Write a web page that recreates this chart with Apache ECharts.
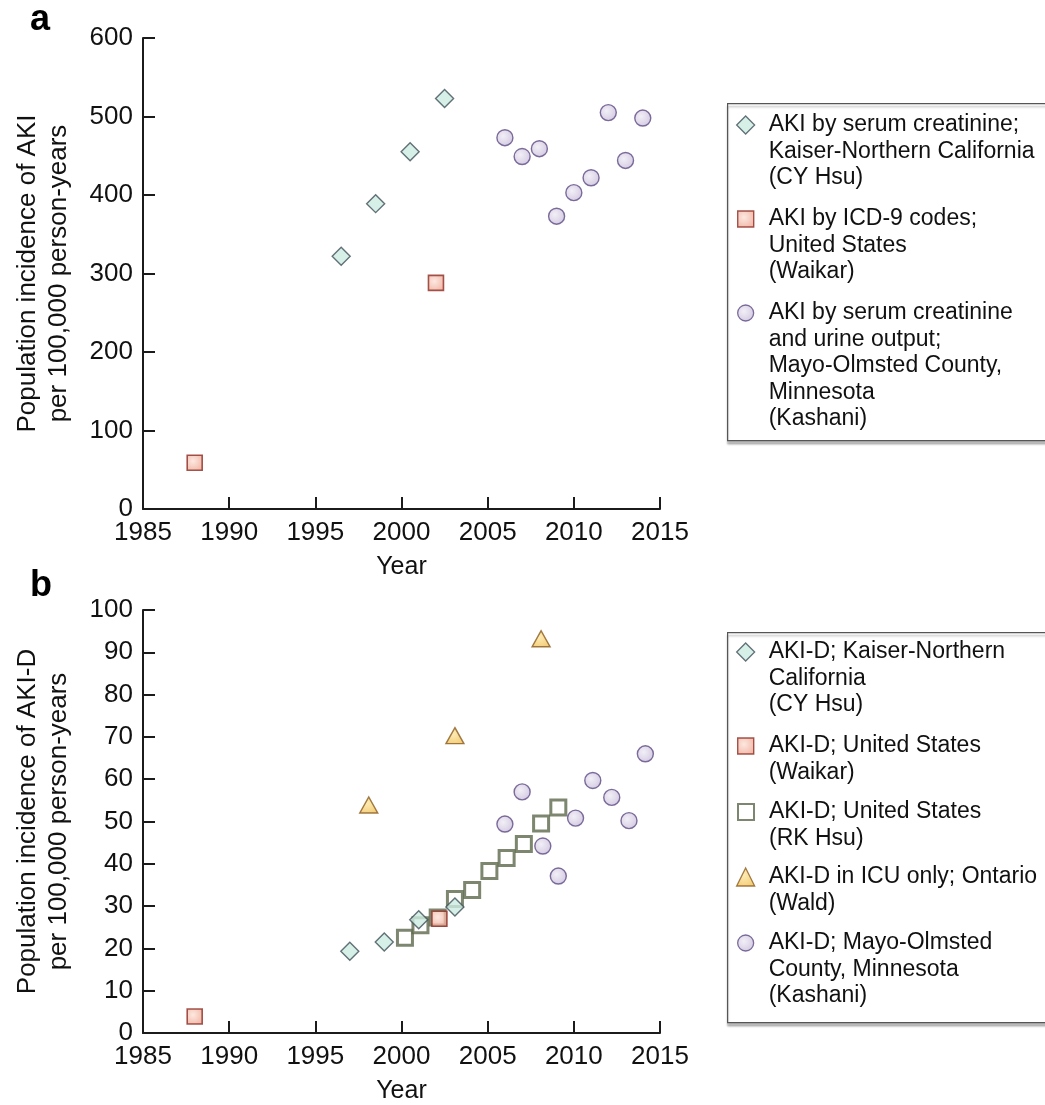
<!DOCTYPE html>
<html>
<head>
<meta charset="utf-8">
<script src="https://cdn.jsdelivr.net/npm/echarts@6/dist/echarts.min.js"></script>
<style>
  html, body { margin: 0; padding: 0; background: #fff; }
  #chart { width: 1045px; height: 1105px; }
</style>
</head>
<body>
<div id="chart"></div>
<script>
// panel a: AKI incidence per 100,000 person-years
var aCYHsuYears = [1996.5, 1998.5, 2000.5, 2002.5];
var aCYHsuValues = [322, 389, 455, 523];
var aWaikarYears = [1988, 2002];
var aWaikarValues = [59, 288];
var aKashaniYears = [2006, 2007, 2008, 2009, 2010, 2011, 2012, 2013, 2014];
var aKashaniValues = [473, 449, 459, 373, 403, 422, 505, 444, 498];

// panel b: AKI-D incidence per 100,000 person-years
var bCYHsuYears = [1997, 1999, 2001, 2003.1];
var bCYHsuValues = [19.3, 21.5, 26.8, 29.8];
var bWaikarYears = [1988, 2002.2];
var bWaikarValues = [3.9, 27.0];
var bRKHsuYears = [2000.2, 2001.1, 2002.1, 2003.1, 2004.1, 2005.1, 2006.1, 2007.1, 2008.1, 2009.1];
var bRKHsuValues = [22.5, 25.5, 27.3, 31.7, 33.8, 38.3, 41.4, 44.7, 49.5, 53.3];
var bWaldYears = [1998.1, 2003.1, 2008.1];
var bWaldValues = [53.9, 70.3, 93.2];
var bKashaniYears = [2006, 2007, 2008.2, 2009.1, 2010.1, 2011.1, 2012.2, 2013.2, 2014.15];
var bKashaniValues = [49.4, 57.0, 44.2, 37.1, 50.8, 59.7, 55.7, 50.2, 66.0];

// axes
var yearMin = 1985, yearMax = 2015, yearStep = 5;
var aMax = 600, aStep = 100;
var bMax = 100, bStep = 10;

// legend texts (one array of lines per entry)
var legendA = [
  ["AKI by serum creatinine;", "Kaiser-Northern California", "(CY Hsu)"],
  ["AKI by ICD-9 codes;", "United States", "(Waikar)"],
  ["AKI by serum creatinine", "and urine output;", "Mayo-Olmsted County,", "Minnesota", "(Kashani)"]
];
var legendB = [
  ["AKI-D; Kaiser-Northern", "California", "(CY Hsu)"],
  ["AKI-D; United States", "(Waikar)"],
  ["AKI-D; United States", "(RK Hsu)"],
  ["AKI-D in ICU only; Ontario", "(Wald)"],
  ["AKI-D; Mayo-Olmsted", "County, Minnesota", "(Kashani)"]
];

var FONT = "'Liberation Sans', Arial, Helvetica, sans-serif";
var LH = 26.4;

function pairs(xs, ys) {
  return xs.map(function (x, i) { return [x, ys[i]]; });
}
function radial(inner, outer) {
  return new echarts.graphic.RadialGradient(0.4, 0.4, 0.7, [
    { offset: 0, color: inner },
    { offset: 1, color: outer }
  ]);
}

var styles = {
  cy: { symbol: "diamond", size: 18, legendBorder: 1.3, itemStyle: { color: "#cdece1", borderColor: "#3e4f57", borderWidth: 1.4 } },
  waikar: { symbol: "rect", size: 15, legendBorder: 1.4, itemStyle: { color: radial("#fce2d8", "#eda48f"), borderColor: "#8d2a22", borderWidth: 1.6 } },
  kashani: { symbol: "circle", size: 16, legendBorder: 1.3, itemStyle: { color: radial("#efebf4", "#c4b8d8"), borderColor: "#5e4a83", borderWidth: 1.4 } },
  rk: { symbol: "rect", size: 15, legendBorder: 2, itemStyle: { color: "#ffffff", borderColor: "#5c684b", borderWidth: 3 } },
  wald: { symbol: "triangle", size: [18, 16], legendBorder: 1.3, itemStyle: { color: radial("#fde7a3", "#f0bf52"), borderColor: "#8a5a1e", borderWidth: 1.4 } }
};

function scatter(name, key, xi, data) {
  var s = styles[key];
  return {
    name: name,
    type: "scatter",
    xAxisIndex: xi,
    yAxisIndex: xi,
    symbol: s.symbol,
    symbolSize: s.size,
    itemStyle: s.itemStyle,
    emphasis: { disabled: true },
    data: data
  };
}

var namesA = ["a-CYHsu", "a-Waikar", "a-Kashani"];
var namesB = ["b-CYHsu", "b-Waikar", "b-RKHsu", "b-Wald", "b-Kashani"];
var labelByName = {};
namesA.forEach(function (n, i) { labelByName[n] = legendA[i]; });
namesB.forEach(function (n, i) { labelByName[n] = legendB[i]; });

// one legend per entry so the symbol sits beside the first text line
function legendFor(name, key, firstLineY, iconSize) {
  var lines = labelByName[name];
  var n = lines.length;
  var blank = [];
  for (var i = 0; i < n - 1; i++) blank.push("");
  var txt = blank.concat(lines).join("\n");
  return {
    data: [name],
    orient: "vertical",
    left: 745 - iconSize / 2,
    top: firstLineY - (2 * n - 1) * LH / 2,
    padding: 0,
    itemWidth: iconSize,
    itemHeight: iconSize,
    selectedMode: false,
    itemStyle: { borderWidth: styles[key].legendBorder },
    formatter: function () { return txt; },
    textStyle: { fontFamily: FONT, fontSize: 23, color: "#111", lineHeight: LH, padding: [0, 0, 0, 18 - iconSize / 2] }
  };
}

function xAxisFor(gi) {
  return {
    type: "value",
    gridIndex: gi,
    min: yearMin,
    max: yearMax,
    interval: yearStep,
    name: "Year",
    nameLocation: "middle",
    nameGap: 46,
    nameTextStyle: { fontFamily: FONT, fontSize: 25, color: "#111" },
    splitLine: { show: false },
    axisLine: { lineStyle: { color: "#1b1b1b", width: 2 } },
    axisTick: { inside: true, length: 12, lineStyle: { color: "#1b1b1b", width: 2 } },
    axisLabel: { fontFamily: FONT, fontSize: 26, color: "#111", margin: 11, formatter: function (v) { return String(v); } }
  };
}
function yAxisFor(gi, max, step, title) {
  return {
    type: "value",
    gridIndex: gi,
    min: 0,
    max: max,
    interval: step,
    name: title,
    nameLocation: "middle",
    nameRotate: 90,
    nameGap: 69,
    nameTextStyle: { fontFamily: FONT, fontSize: 26, color: "#111", lineHeight: 31 },
    splitLine: { show: false },
    axisLine: { show: true, lineStyle: { color: "#1b1b1b", width: 2 } },
    axisTick: { show: true, inside: true, length: 12, lineStyle: { color: "#1b1b1b", width: 2 } },
    axisLabel: { fontFamily: FONT, fontSize: 26, color: "#111", margin: 10, formatter: function (v) { return String(v); } }
  };
}

var chart = echarts.init(document.getElementById("chart"), null, { renderer: "canvas" });

var option = {
  animation: false,
  backgroundColor: "#fff",
  grid: [
    { left: 143, top: 38, width: 517, height: 471 },
    { left: 143, top: 610, width: 517, height: 428 }
  ],
  xAxis: [xAxisFor(0), xAxisFor(1)],
  yAxis: [
    yAxisFor(0, aMax, aStep, "Population incidence of AKI\nper 100,000 person-years"),
    yAxisFor(1, bMax, bStep, "Population incidence of AKI-D\nper 100,000 person-years")
  ],
  legend: [
    legendFor("a-CYHsu", "cy", 125, 18),
    legendFor("a-Waikar", "waikar", 219, 16),
    legendFor("a-Kashani", "kashani", 313, 16),
    legendFor("b-CYHsu", "cy", 652, 18),
    legendFor("b-Waikar", "waikar", 746, 16),
    legendFor("b-RKHsu", "rk", 812, 16),
    legendFor("b-Wald", "wald", 877, 18),
    legendFor("b-Kashani", "kashani", 943, 16)
  ],
  graphic: [
    { type: "rect", left: 727, top: 103, z: -1, shape: { width: 340, height: 337 },
      style: { fill: "#fff", stroke: "#555", lineWidth: 1.2, shadowColor: "rgba(0,0,0,0.25)", shadowOffsetY: 3, shadowBlur: 2 } },
    { type: "rect", left: 727, top: 632, z: -1, shape: { width: 340, height: 390 },
      style: { fill: "#fff", stroke: "#555", lineWidth: 1.2, shadowColor: "rgba(0,0,0,0.25)", shadowOffsetY: 3, shadowBlur: 2 } },
    { type: "text", left: 30, top: 2, style: { text: "a", fontFamily: FONT, fontSize: 36, fontWeight: "bold", fill: "#000" } },
    { type: "text", left: 30, top: 568, style: { text: "b", fontFamily: FONT, fontSize: 36, fontWeight: "bold", fill: "#000" } }
  ],
  series: [
    scatter("a-CYHsu", "cy", 0, pairs(aCYHsuYears, aCYHsuValues)),
    scatter("a-Waikar", "waikar", 0, pairs(aWaikarYears, aWaikarValues)),
    scatter("a-Kashani", "kashani", 0, pairs(aKashaniYears, aKashaniValues)),
    // hollow squares first so the other markers overlap them
    scatter("b-RKHsu", "rk", 1, pairs(bRKHsuYears, bRKHsuValues)),
    scatter("b-Wald", "wald", 1, pairs(bWaldYears, bWaldValues)),
    scatter("b-Kashani", "kashani", 1, pairs(bKashaniYears, bKashaniValues)),
    scatter("b-CYHsu", "cy", 1, pairs(bCYHsuYears, bCYHsuValues)),
    scatter("b-Waikar", "waikar", 1, pairs(bWaikarYears, bWaikarValues))
  ]
};

chart.setOption(option);
</script>
</body>
</html>
